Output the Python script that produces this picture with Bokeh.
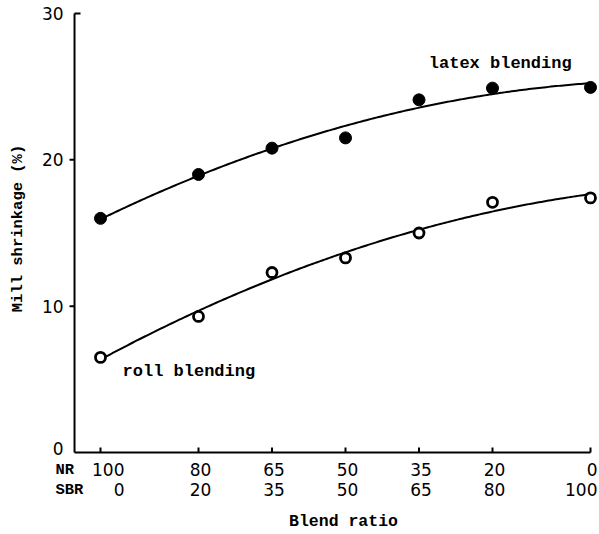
import numpy as np
from bokeh.plotting import figure
from bokeh.models import Range1d, ColumnDataSource
from bokeh.core.properties import value
from bokeh.embed import file_html
from bokeh.resources import INLINE

# Blend ratio positions (SBR content, %), with the matching NR content
sbr_pct = [0, 20, 35, 50, 65, 80, 100]
nr_pct = [100, 80, 65, 50, 35, 20, 0]

# Mill shrinkage (%) for the two mixing methods
latex_shrink = [16.0, 19.0, 20.8, 21.5, 24.1, 24.9, 24.95]
roll_shrink = [6.5, 9.3, 12.3, 13.3, 15.0, 17.1, 17.4]

y_ticks = [0, 10, 20, 30]

MONO = value("Liberation Mono")
NUM = value("DejaVu Sans")

W, H = 599, 534
# pixel scale of the plot: where SBR 0 / shrinkage 0 sit and px per unit
X0_PX, X_SCALE = 100.0, 4.9
Y0_PX, Y_SCALE = 452.0, 14.633


def px_x(n):
    return n / X_SCALE


def px_y(n):
    return n / Y_SCALE


p = figure(width=W, height=H, output_backend="svg", toolbar_location=None,
           x_axis_type=None, y_axis_type=None,
           x_range=Range1d(-X0_PX / X_SCALE, (W - X0_PX) / X_SCALE),
           y_range=Range1d(-(H - Y0_PX) / Y_SCALE, Y0_PX / Y_SCALE),
           min_border=0)
p.background_fill_color = "white"
p.border_fill_color = "white"
p.outline_line_color = None
p.grid.grid_line_color = None

x_lo, x_hi = -5.3, sbr_pct[-1]
y_lo, y_hi = y_ticks[0], y_ticks[-1]

# axis lines
p.segment(x0=[x_lo, x_lo], y0=[y_lo, y_lo], x1=[x_hi, x_lo], y1=[y_lo, y_hi],
          line_color="black", line_width=2)

# x ticks point up into the plot
p.segment(x0=sbr_pct, y0=[y_lo] * len(sbr_pct), x1=sbr_pct,
          y1=[y_lo + px_y(5)] * len(sbr_pct), line_color="black", line_width=2)

# y ticks: outward for 10 and 20, inward cap at the top
p.segment(x0=[x_lo] * 2, y0=y_ticks[1:3], x1=[x_lo - px_x(5)] * 2, y1=y_ticks[1:3],
          line_color="black", line_width=2)
p.segment(x0=[x_lo], y0=[y_hi], x1=[x_lo + px_x(6)], y1=[y_hi],
          line_color="black", line_width=2)

# y tick labels
p.text(x=[x_lo - px_x(11)] * len(y_ticks), y=[v + px_y(4 if v == 0 else 0) for v in y_ticks],
       text=[str(v) for v in y_ticks], text_align="right", text_baseline="middle",
       text_font=NUM, text_font_size="17px", text_color="black")

# y axis title
p.text(x=[-X0_PX / X_SCALE + px_x(17)], y=[px_y(Y0_PX - 228)], text=["Mill shrinkage (%)"],
       angle=np.pi / 2, text_align="center", text_baseline="middle",
       text_font=MONO, text_font_style="bold", text_font_size="15.5px",
       text_color="black")

# fitted trend curves (quadratic least squares through each series)
xs = np.linspace(0, 100, 200)
for ys in (latex_shrink, roll_shrink):
    coef = np.polyfit(sbr_pct, ys, 2)
    p.line(xs, np.polyval(coef, xs), line_color="black", line_width=2)

p.scatter(sbr_pct, latex_shrink, size=12, fill_color="black", line_color="black")
p.scatter(sbr_pct, roll_shrink, size=10, fill_color="white", line_color="black",
          line_width=2.8)

# two-row tick labels: NR on top, SBR below
n = len(sbr_pct)
src = ColumnDataSource(dict(
    x=sbr_pct,
    nr=[str(v) for v in nr_pct],
    sbr=[str(v) for v in sbr_pct],
    align=["right"] + ["center"] * (n - 2) + ["right"],
    dx=[24] + [2] * (n - 2) + [7],
    y_nr=[-px_y(17)] * n,
    y_sbr=[-px_y(37)] * n,
))
for col, ycol in (("nr", "y_nr"), ("sbr", "y_sbr")):
    p.text(x="x", y=ycol, text=col, source=src, text_align="align", x_offset="dx",
           text_baseline="middle", text_font=NUM, text_font_size="17px",
           text_color="black")

p.text(x=[px_x(55 - X0_PX)] * 2, y=[-px_y(17), -px_y(37)], text=["NR", "SBR"],
       text_align="left", text_baseline="middle", text_font=MONO,
       text_font_style="bold", text_font_size="15.5px", text_color="black")

p.text(x=[px_x(343 - X0_PX)], y=[-px_y(69)], text=["Blend ratio"], text_align="center",
       text_baseline="middle", text_font=MONO, text_font_style="bold",
       text_font_size="16.5px", text_color="black")

p.text(x=[67.0], y=[26.58], text=["latex blending"], text_align="left",
       text_baseline="middle", text_font=MONO, text_font_style="bold",
       text_font_size="17px", text_color="black")
p.text(x=[4.5], y=[5.55], text=["roll blending"], text_align="left",
       text_baseline="middle", text_font=MONO, text_font_style="bold",
       text_font_size="17px", text_color="black")

open("out.html", "w").write(file_html(p, INLINE))
